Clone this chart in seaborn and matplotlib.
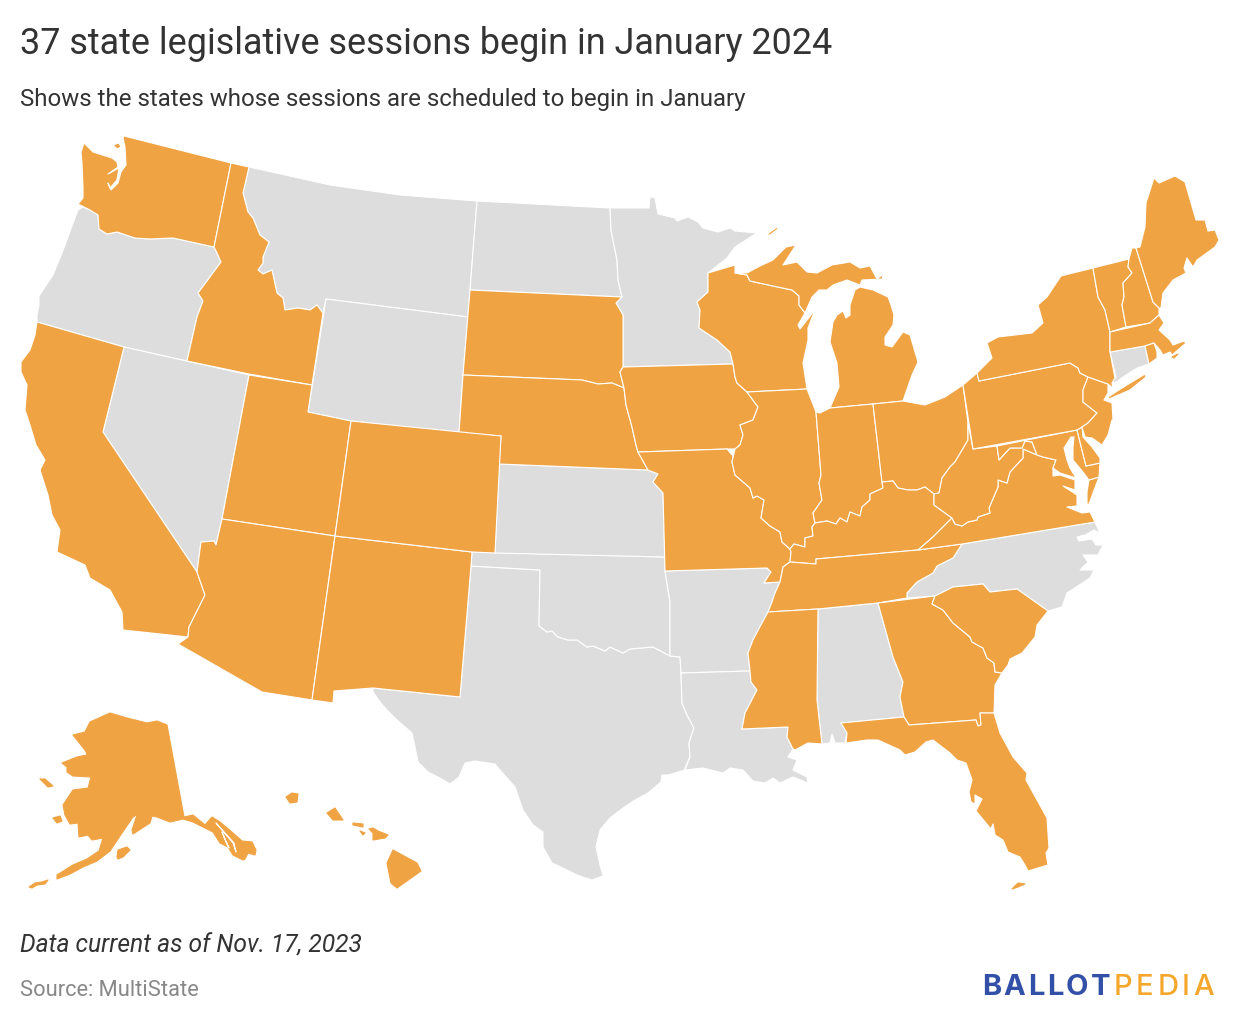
import matplotlib
matplotlib.use('Agg')
import matplotlib.pyplot as plt
import seaborn as sns
import pandas as pd

# outlines, in picture pixels
WA = [(124,136),(231,163),(214,247),(173,238),(150,239),(135,238),(117,232),(107,234),(99,229),(98,215),(90,210),(78,204),(83,198),(83,188),(82,163),(81,152),(84,143),(93,152),(112,158),(117,162),(118,167),(108,174),(119,168),(117,180),(110,188),(108,183),(111,190),(118,183),(121,172),(126,165),(125,147),(123,138)]
WA_ISLAND = [(113,145),(119,143),(121,147),(117,149)]
OR = [(78,210),(83,207),(90,210),(98,215),(99,229),(107,234),(117,232),(135,238),(150,239),(173,238),(214,247),(217,253),(221,262),(207,281),(198,293),(203,301),(197,317),(187,361),(124,347),(37,322),(37,315),(39,305),(39,296),(53,275),(62,253),(75,218)]
ID = [(231,163),(249,167),(243,193),(248,212),(253,218),(260,235),(269,242),(263,257),(263,263),(258,270),(263,274),(272,270),(277,293),(283,298),(285,310),(298,308),(310,310),(317,305),(323,313),(312,385),(249,374),(187,361),(197,317),(203,301),(198,293),(207,281),(221,262),(217,253),(214,247)]
MT = [(249,167),(330,185),(400,195),(477,201),(470,290),(468,317),(326,299),(323,313),(317,305),(310,310),(298,308),(285,310),(283,298),(277,293),(272,270),(263,274),(258,270),(263,263),(263,257),(269,242),(260,235),(253,218),(248,212),(243,193)]
WY = [(326,299),(468,317),(463,375),(459,433),(351,421),(308,412)]
ND = [(477,201),(610,208),(611,230),(617,260),(618,280),(622,297),(470,290)]
SD = [(470,290),(622,297),(616,303),(623,315),(623,367),(620,372),(624,388),(612,383),(598,384),(582,380),(463,375)]
NE = [(463,375),(582,380),(598,384),(612,383),(624,388),(626,405),(632,427),(636,445),(638,452),(648,470),(499,464),(501,436),(459,433)]
KS = [(499,464),(648,470),(658,474),(653,482),(663,493),(665,557),(495,553)]
OK = [(472,552),(665,557),(665,571),(670,602),(670,656),(653,647),(630,649),(623,653),(610,647),(605,651),(593,646),(587,647),(577,640),(568,640),(558,637),(552,631),(547,632),(539,626),(540,570),(471,566)]
TX = [(471,566),(540,570),(539,626),(547,632),(552,631),(558,637),(568,640),(577,640),(587,647),(593,646),(605,651),(610,647),(623,653),(630,649),(653,647),(670,656),(680,657),(681,673),(682,703),(687,715),(694,728),(689,743),(690,757),(685,768),(685,770),(668,775),(662,775),(661,782),(648,793),(635,800),(623,808),(610,818),(600,830),(596,847),(600,865),(603,876),(592,880),(577,875),(563,868),(552,863),(543,847),(543,832),(533,825),(523,810),(515,787),(500,770),(495,764),(475,761),(465,763),(459,777),(450,784),(440,778),(428,772),(418,762),(415,747),(412,733),(397,720),(387,710),(380,702),(373,692),(373,688),(460,697)]
NM = [(335,536),(472,552),(471,566),(460,697),(373,688),(334,691),(333,703),(312,700)]
AZ = [(222,519),(335,536),(312,700),(262,692),(178,644),(188,637),(189,627),(205,595),(197,572),(201,542),(214,541),(216,545)]
NV = [(124,347),(249,375),(222,519),(216,545),(214,541),(201,542),(197,572),(103,432)]
UT = [(249,375),(312,385),(308,412),(351,421),(335,536),(222,519)]
CO = [(351,421),(501,436),(495,553),(472,552),(335,536)]
CA = [(37,322),(124,347),(103,432),(197,572),(205,595),(189,627),(188,637),(123,630),(122,612),(110,590),(90,578),(85,565),(57,552),(60,530),(52,515),(48,495),(40,470),(45,460),(36,445),(30,425),(25,410),(27,385),(21,372),(21,362),(30,350),(35,335)]
MN = [(610,208),(649,208),(650,197),(655,198),(658,214),(675,218),(677,221),(688,217),(698,222),(703,228),(718,232),(730,228),(735,231),(757,233),(735,247),(727,258),(708,273),(708,292),(697,302),(700,310),(699,328),(717,340),(730,352),(733,364),(623,367),(623,315),(616,303),(622,297),(618,280),(617,260),(611,230)]
WI = [(708,273),(735,265),(735,273),(747,275),(750,281),(773,286),(792,290),(799,296),(799,305),(805,313),(798,325),(800,329),(815,310),(808,328),(808,340),(803,363),(807,389),(747,392),(737,383),(735,377),(733,364),(730,352),(717,340),(699,328),(700,310),(697,302),(708,292)]
MI_UPPER = [(735,273),(747,275),(750,281),(773,286),(792,290),(799,296),(799,305),(805,313),(812,297),(819,290),(827,290),(833,285),(847,280),(860,285),(862,280),(883,279),(882,275),(877,279),(870,266),(860,268),(850,262),(832,265),(817,273),(807,272),(797,262),(783,265),(796,245),(786,247),(773,260),(758,267),(747,273)]
MI_LOWER = [(860,287),(873,290),(888,297),(891,305),(894,315),(893,325),(885,337),(885,345),(892,347),(903,332),(910,335),(918,362),(912,375),(905,395),(903,401),(873,404),(830,408),(839,387),(837,363),(830,342),(833,322),(837,315),(843,311),(846,318),(850,315),(850,305),(855,290)]
MI_ISLE = [(766,235),(777,227),(778,229),(770,235)]
IA = [(623,367),(733,364),(735,377),(737,383),(747,392),(758,407),(753,420),(740,425),(743,435),(740,445),(735,449),(727,449),(638,452),(636,445),(632,427),(626,405),(624,388),(620,372)]
IL = [(747,392),(807,389),(816,412),(821,475),(819,483),(822,500),(813,513),(815,523),(812,527),(813,536),(805,538),(805,547),(794,544),(790,549),(782,542),(780,532),(770,526),(761,518),(764,500),(757,496),(753,498),(750,488),(735,475),(732,462),(735,449),(740,445),(743,435),(740,425),(753,420),(758,407)]
IN = [(816,412),(820,413),(830,408),(873,404),(882,482),(883,488),(870,494),(870,500),(862,507),(860,516),(850,512),(847,522),(840,518),(836,524),(827,521),(815,523),(813,513),(822,500),(819,483),(821,475)]
OH = [(873,404),(903,401),(925,405),(945,397),(963,385),(968,423),(968,440),(955,462),(950,467),(942,478),(939,493),(934,494),(925,487),(917,490),(908,490),(898,488),(893,481),(882,482)]
MO = [(638,452),(727,449),(733,456),(732,462),(735,475),(750,488),(753,498),(757,496),(764,500),(761,518),(770,526),(780,532),(782,542),(790,549),(791,552),(790,562),(783,567),(780,582),(764,583),(771,572),(767,568),(665,571),(663,493),(653,482),(658,474),(648,470)]
AR = [(665,571),(767,568),(771,572),(764,583),(780,582),(775,593),(772,602),(768,612),(762,623),(753,640),(748,653),(750,671),(681,673),(680,657),(670,656),(670,602)]
LA = [(681,673),(750,671),(751,682),(757,690),(745,713),(742,729),(788,727),(787,737),(793,749),(788,757),(797,760),(793,770),(807,777),(808,783),(793,777),(780,783),(773,778),(765,783),(753,781),(743,770),(730,768),(723,773),(703,768),(685,770),(690,757),(689,743),(694,728),(687,715),(682,703)]
MS = [(768,612),(818,609),(817,700),(822,744),(808,743),(795,750),(793,749),(787,737),(788,727),(742,729),(745,713),(757,690),(751,682),(750,671),(748,653),(753,640),(762,623)]
AL = [(818,609),(878,603),(893,657),(903,682),(900,697),(904,717),(841,723),(847,733),(845,743),(835,743),(832,734),(830,743),(822,744),(817,700)]
FL = [(841,723),(904,717),(909,725),(976,720),(978,726),(981,725),(980,713),(994,713),(1000,733),(1013,757),(1027,773),(1026,780),(1047,818),(1049,848),(1046,853),(1048,865),(1028,871),(1025,865),(1020,857),(1008,852),(1003,840),(995,835),(993,824),(991,829),(976,811),(982,799),(975,795),(975,804),(971,802),(969,792),(972,780),(966,763),(957,760),(950,753),(933,740),(926,742),(915,752),(905,755),(900,750),(878,740),(867,740),(846,743),(847,733)]
FL_KEYS = [(1012,889),(1018,883),(1025,884),(1018,887)]
GA = [(878,603),(935,596),(932,604),(943,610),(953,623),(970,637),(972,642),(983,648),(987,658),(994,663),(995,672),(1002,673),(995,685),(994,713),(980,713),(981,725),(978,726),(976,720),(909,725),(904,717),(900,697),(903,682),(893,657)]
SC = [(932,604),(935,596),(953,587),(983,584),(990,592),(1017,589),(1048,611),(1037,625),(1035,637),(1022,653),(1010,659),(1008,665),(1002,673),(995,672),(994,663),(987,658),(983,648),(972,642),(970,637),(953,623),(943,610)]
NC = [(907,598),(907,593),(917,582),(933,573),(937,566),(953,558),(962,544),(1095,522),(1100,533),(1094,530),(1085,535),(1077,537),(1079,541),(1092,539),(1096,545),(1103,545),(1098,555),(1083,555),(1088,562),(1080,570),(1094,570),(1090,578),(1067,593),(1062,607),(1048,611),(1017,589),(990,592),(983,584),(953,587),(935,596)]
TN = [(783,567),(790,562),(816,564),(816,559),(918,550),(962,544),(953,558),(937,566),(933,573),(917,582),(907,593),(907,598),(878,603),(818,609),(768,612),(772,602),(775,593),(780,582)]
KY = [(791,552),(790,562),(816,564),(816,559),(918,550),(933,537),(952,518),(934,505),(934,494),(925,487),(917,490),(908,490),(898,488),(893,481),(882,482),(883,488),(870,494),(870,500),(862,507),(860,516),(850,512),(847,522),(840,518),(836,524),(827,521),(815,523),(812,527),(813,536),(805,538),(805,547),(794,544),(790,549)]
VA = [(918,550),(962,544),(1095,522),(1090,512),(1082,513),(1067,507),(1077,506),(1077,495),(1063,486),(1075,490),(1075,480),(1060,475),(1053,476),(1053,468),(1056,460),(1043,457),(1037,455),(1023,449),(1023,458),(1010,472),(1007,483),(998,480),(998,487),(989,508),(990,513),(978,517),(977,520),(968,522),(962,526),(955,524),(952,518),(933,537)]
VA_SHORE = [(1089,480),(1099,477),(1093,493),(1089,504),(1087,504),(1087,492)]
WV = [(968,423),(973,449),(997,446),(999,460),(1010,448),(1022,448),(1025,441),(1032,442),(1037,455),(1023,449),(1023,458),(1010,472),(1007,483),(998,480),(998,487),(989,508),(990,513),(978,517),(977,520),(968,522),(962,526),(955,524),(952,518),(934,505),(934,494),(939,493),(942,478),(950,467),(955,462),(968,440)]
MD = [(997,446),(1077,430),(1086,466),(1100,463),(1099,477),(1089,480),(1083,472),(1073,460),(1073,447),(1074,437),(1071,437),(1064,448),(1067,460),(1070,468),(1076,478),(1060,473),(1053,468),(1056,460),(1043,457),(1037,455),(1032,442),(1025,441),(1022,448),(1010,448),(999,460)]
DE = [(1077,430),(1082,427),(1083,437),(1092,447),(1100,458),(1100,463),(1086,466)]
PA = [(963,385),(977,373),(979,381),(1070,363),(1078,368),(1080,373),(1088,377),(1083,390),(1083,402),(1097,413),(1088,423),(1082,427),(1077,430),(973,449)]
NJ = [(1088,377),(1108,384),(1108,393),(1104,400),(1112,403),(1113,420),(1112,420),(1108,435),(1102,445),(1092,438),(1085,437),(1082,427),(1088,423),(1097,413),(1083,402),(1083,390)]
NY = [(977,373),(992,358),(987,343),(998,337),(1015,335),(1032,333),(1043,323),(1038,305),(1047,297),(1061,276),(1093,268),(1098,297),(1105,310),(1110,332),(1110,352),(1115,378),(1112,383),(1113,388),(1108,384),(1088,377),(1080,373),(1078,368),(1070,363),(979,381)]
NY_LONG_ISLAND = [(1108,397),(1122,388),(1145,374),(1146,377),(1130,390),(1109,399)]
VT = [(1093,268),(1129,259),(1128,267),(1132,273),(1123,283),(1124,297),(1122,305),(1126,327),(1110,332),(1105,310),(1098,297)]
NH = [(1129,259),(1132,248),(1136,248),(1153,302),(1159,308),(1159,315),(1150,323),(1126,327),(1122,305),(1124,297),(1123,283),(1132,273),(1128,267)]
ME = [(1136,248),(1140,247),(1145,227),(1146,203),(1154,178),(1159,183),(1175,176),(1185,182),(1196,220),(1205,220),(1208,231),(1215,230),(1219,240),(1215,247),(1197,260),(1193,267),(1187,258),(1184,268),(1186,273),(1173,280),(1163,293),(1161,308),(1159,308),(1153,302)]
MA = [(1110,332),(1150,323),(1159,315),(1164,323),(1159,330),(1170,340),(1173,345),(1184,341),(1186,343),(1172,355),(1170,352),(1163,355),(1160,350),(1154,343),(1145,346),(1110,352)]
MA_ISLAND = [(1172,357),(1178,354),(1174,358)]
CT = [(1110,352),(1145,346),(1149,364),(1137,368),(1123,377),(1115,383),(1112,381),(1116,377)]
RI = [(1145,346),(1154,343),(1157,352),(1157,358),(1149,364)]
AK = [(167,725),(184,817),(193,815),(205,825),(212,817),(220,822),(233,833),(242,841),(252,842),(256,850),(255,855),(248,853),(245,859),(243,860),(233,855),(228,847),(220,843),(213,832),(203,827),(193,822),(183,819),(170,822),(157,817),(152,816),(150,823),(133,834),(132,830),(137,815),(140,813),(133,817),(122,833),(110,851),(97,861),(83,867),(70,874),(57,879),(57,875),(73,865),(87,859),(99,851),(103,838),(92,840),(88,835),(79,837),(78,823),(70,824),(65,815),(63,805),(73,790),(88,788),(91,777),(73,776),(67,772),(67,767),(62,763),(77,757),(87,755),(91,762),(85,750),(73,735),(85,732),(90,722),(110,713),(127,718),(147,723),(157,721)]
AK_LAWRENCE = [(40,779),(45,779),(53,786),(48,787)]
AK_NUNIVAK = [(53,818),(60,816),(62,821),(57,823)]
AK_KODIAK = [(117,857),(118,850),(127,847),(130,850),(123,857),(118,859)]
AK_ALEUTIANS = [(29,887),(35,883),(42,882),(48,880),(45,884),(37,885),(32,888)]
HI_KAUAI = [(286,797),(292,793),(298,794),(297,802),(290,803)]
HI_OAHU = [(327,813),(335,808),(343,820),(333,820)]
HI_MOLOKAI = [(353,823),(363,824),(363,827),(353,825)]
HI_LANAI = [(360,831),(365,833),(363,835)]
HI_MAUI = [(369,829),(373,828),(378,831),(388,835),(385,838),(373,840),(373,833)]
HI_BIG = [(393,850),(417,863),(421,871),(397,888),(391,883),(387,863)]
# channels between the panhandle islands
AK_CHANNEL_A = [(216,823),(234,843),(236,852),(233,843)]
AK_CHANNEL_B = [(222,832),(229,848),(226,842)]

january_shapes = [WA, WA_ISLAND, ID, SD, NE, IA, MO, WI, MI_UPPER, MI_LOWER, MI_ISLE, IL, IN, OH, KY, TN, MS,
                  GA, FL, SC, VA, VA_SHORE, WV, MD, DE, PA, NJ, NY, NY_LONG_ISLAND, VT, NH, ME, MA, RI, CA, UT,
                  AZ, NM, CO]
# small pieces lose too much under a white outline
january_bare = [FL_KEYS, MA_ISLAND, AK, AK_LAWRENCE, AK_NUNIVAK, AK_KODIAK, AK_ALEUTIANS,
                HI_KAUAI, HI_OAHU, HI_MOLOKAI, HI_LANAI, HI_MAUI, HI_BIG]
other_shapes = [OR, MT, WY, ND, MN, NV, TX, OK, KS, AR, LA, AL, NC, CT]

TITLE = '37 state legislative sessions begin in January 2024'
SUBTITLE = 'Shows the states whose sessions are scheduled to begin in January'
NOTE = 'Data current as of Nov. 17, 2023'
SOURCE = 'Source: MultiState'

sns.set_theme(style='white')
plt.rcParams['font.family'] = ['Roboto', 'DejaVu Sans']
COLORS = {'january': '#F0A343', 'other': '#DDDDDD'}


def draw_shape(ax, shape, color, edge):
    df = pd.DataFrame(shape, columns=['x', 'y'])
    ax.fill(df['x'], df['y'], facecolor=color, edgecolor=edge, linewidth=0.8, joinstyle='round')


def draw_tracked(ax, renderer, x, y, word, tracking, **kw):
    # one letter at a time, the logo is set with wide spacing
    for ch in word:
        t = ax.text(x, y, ch, **kw)
        x += t.get_window_extent(renderer).width + tracking


fig, ax = plt.subplots(figsize=(12.4, 10.3), dpi=100)
ax.set_position([0, 0, 1, 1])
ax.set_xlim(0, 1240)
ax.set_ylim(1030, 0)
ax.axis('off')

for shape in other_shapes:
    draw_shape(ax, shape, COLORS['other'], 'white')
for shape in january_shapes:
    draw_shape(ax, shape, COLORS['january'], 'white')
for shape in january_bare:
    draw_shape(ax, shape, COLORS['january'], COLORS['january'])
for shape in [AK_CHANNEL_A, AK_CHANNEL_B]:
    draw_shape(ax, shape, 'white', 'white')

ax.text(20, 54, TITLE, fontsize=25.9, color='#333333')
ax.text(20, 106, SUBTITLE, fontsize=17.25, color='#333333')
ax.text(20, 953, NOTE, fontsize=17.7, color='#333333', style='italic')
ax.text(20, 996, SOURCE, fontsize=15.75, color='#888888')

# logo wordmark
renderer = fig.canvas.get_renderer()
draw_tracked(ax, renderer, 982, 995, 'BALLOT', 2.5, fontsize=21, color='#3350A8', fontweight='bold', family='Inter')
draw_tracked(ax, renderer, 1114, 995, 'PEDIA', 3.5, fontsize=21, color='#F5A62B', fontweight='medium', family='Inter')

plt.savefig('out.png', dpi=100)
